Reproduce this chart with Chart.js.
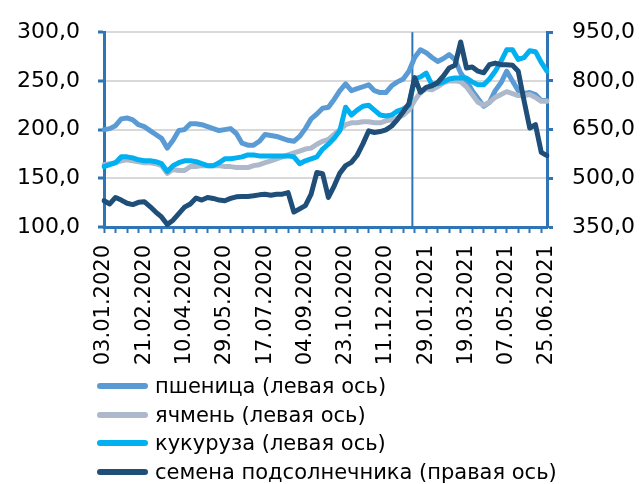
<!DOCTYPE html>
<html>
<head>
<meta charset="utf-8">
<script src="https://cdn.jsdelivr.net/npm/chart.js@4/dist/chart.umd.min.js"></script>
<style>
    html, body { margin: 0; padding: 0; background: #fff; }
    #wrap { position: relative; width: 640px; height: 484px; }
    #legend { position: absolute; left: 97px; top: 372px; font: 21px "DejaVu Sans", sans-serif; color: #000; }
    .row { height: 28.5px; display: flex; align-items: center; white-space: nowrap; }
    .swatch { width: 51px; height: 6px; border-radius: 3px; margin-right: 7px; }
</style>
</head>
<body>
<div id="wrap">
    <canvas id="chart" width="640" height="484"></canvas>
    <div id="legend"></div>
</div>
<script>
const dates = [
    "03.01.2020", "10.01.2020", "17.01.2020", "24.01.2020", "31.01.2020", "07.02.2020", "14.02.2020",
    "21.02.2020", "28.02.2020", "06.03.2020", "13.03.2020", "20.03.2020", "27.03.2020", "03.04.2020",
    "10.04.2020", "17.04.2020", "24.04.2020", "01.05.2020", "08.05.2020", "15.05.2020", "22.05.2020",
    "29.05.2020", "05.06.2020", "12.06.2020", "19.06.2020", "26.06.2020", "03.07.2020", "10.07.2020",
    "17.07.2020", "24.07.2020", "31.07.2020", "07.08.2020", "14.08.2020", "21.08.2020", "28.08.2020",
    "04.09.2020", "11.09.2020", "18.09.2020", "25.09.2020", "02.10.2020", "09.10.2020", "16.10.2020",
    "23.10.2020", "30.10.2020", "06.11.2020", "13.11.2020", "20.11.2020", "27.11.2020", "04.12.2020",
    "11.12.2020", "18.12.2020", "25.12.2020", "01.01.2021", "08.01.2021", "15.01.2021", "22.01.2021",
    "29.01.2021", "05.02.2021", "12.02.2021", "19.02.2021", "26.02.2021", "05.03.2021", "12.03.2021",
    "19.03.2021", "26.03.2021", "02.04.2021", "09.04.2021", "16.04.2021", "23.04.2021", "30.04.2021",
    "07.05.2021", "14.05.2021", "21.05.2021", "28.05.2021", "04.06.2021", "11.06.2021", "18.06.2021",
    "25.06.2021"
];

const wheat = [
    200, 201, 204, 211, 212, 210, 205, 203, 199, 195,
    191, 181, 189, 199, 200, 206, 206, 205, 203, 201,
    199, 200, 201, 196, 186, 184, 184, 188, 195, 194,
    193, 191, 189, 188, 193, 201, 211, 216, 222, 223,
    231, 240, 247, 240, 242, 244, 246, 240, 238, 238,
    245, 249, 252, 260, 274, 282, 279, 274, 270, 273,
    277, 272, 258, 250, 240, 232, 224, 228, 240, 248,
    260, 250, 240, 237, 238, 236, 230, 230
];

const barley = [
    164, 165, 166, 168, 169, 168, 167, 166, 166, 165,
    163, 155, 159, 158, 158, 162, 162, 163, 163, 163,
    163, 162, 162, 161, 161, 161, 163, 164, 166, 168,
    170, 172, 174, 176, 178, 180, 181, 185, 188, 190,
    195, 200, 205, 207, 207, 208, 208, 207, 207, 209,
    210, 212, 215, 220, 230, 238, 242, 241, 244, 248,
    250, 250, 249, 244, 236, 228, 225, 228, 233, 236,
    239, 237, 235, 235, 236, 233, 229, 229
];

const corn = [
    162, 164, 166, 172, 172, 171, 169, 168, 168, 167,
    165, 157, 163, 166, 168, 168, 167, 165, 163, 163,
    166, 170, 170, 171, 172, 174, 174, 173, 173, 173,
    173, 173, 173, 172, 165, 168, 170, 172, 180, 185,
    191, 199, 223, 215, 220, 224, 225, 220, 215, 214,
    215, 219, 221, 225, 252, 254, 258, 246, 247, 249,
    252, 253, 253, 253, 249, 246, 246, 252, 260, 270,
    282, 282, 272, 274, 281, 280, 269, 260
];

const sunflower = [
    431, 421, 441, 433, 423, 419, 426, 428, 413, 396,
    381, 358, 371, 391, 411, 421, 439, 433, 441, 438,
    433, 431, 438, 443, 444, 444, 446, 449, 451, 448,
    451, 451, 456, 396, 406, 416, 451, 518, 514, 441,
    476, 516, 539, 549, 571, 606, 646, 641, 644, 649,
    661, 681, 705, 730, 810, 765, 780, 785, 795, 815,
    840, 848, 920, 840, 843, 830, 825, 850, 855, 850,
    850, 848, 830, 740, 655, 665, 580, 570
];

const seriesNames = [
    "пшеница (левая ось)",
    "ячмень (левая ось)",
    "кукуруза (левая ось)",
    "семена подсолнечника (правая ось)"
];
const seriesColors = ["#5B9BD5", "#ADB9CA", "#00B0F0", "#1F4E79"];

const leftTicks = [100, 150, 200, 250, 300];
const rightTicks = [350, 500, 650, 800, 950];
const labelEvery = 7;
const yearMark = 53.6; // separator between 2020 and 2021

const axisBlue = "#2E75B6";
const fontFamily = "'DejaVu Sans', sans-serif";

function fmt(v) {
    return v.toFixed(1).replace(".", ",");
}

const yearLine = {
    id: "yearLine",
    beforeDatasetsDraw(chart) {
        const { ctx, chartArea, scales } = chart;
        const x = scales.x.getPixelForValue(yearMark);
        ctx.save();
        ctx.strokeStyle = axisBlue;
        ctx.lineWidth = 2;
        ctx.beginPath();
        ctx.moveTo(x, chartArea.top);
        ctx.lineTo(x, chartArea.bottom);
        ctx.stroke();
        ctx.restore();
    }
};

const values = [wheat, barley, corn, sunflower];

new Chart(document.getElementById("chart"), {
    type: "line",
    data: {
        labels: dates,
        datasets: values.map((data, i) => ({
            label: seriesNames[i],
            data,
            borderColor: seriesColors[i],
            yAxisID: i === 3 ? "y1" : "y",
            order: 3 - i
        }))
    },
    options: {
        responsive: false,
        animation: false,
        layout: { padding: { top: 27, left: 0, right: 0, bottom: 0 } },
        elements: {
            point: { radius: 0 },
            line: { borderWidth: 5, tension: 0, borderCapStyle: "round", borderJoinStyle: "round" }
        },
        plugins: {
            legend: { display: false },
            tooltip: { enabled: false }
        },
        scales: {
            x: {
                grid: {
                    drawOnChartArea: false,
                    tickLength: 6,
                    tickWidth: 2,
                    tickColor: ctx => ctx.index % 2 === 0 ? axisBlue : "rgba(0,0,0,0)"
                },
                border: { color: axisBlue, width: 3 },
                ticks: {
                    autoSkip: false,
                    minRotation: 90,
                    maxRotation: 90,
                    padding: 12,
                    color: "#000",
                    font: { family: fontFamily, size: 21 },
                    callback: (v, i) => i % labelEvery === 0 ? dates[i] : ""
                },
                afterFit: s => { s.height = 484 - 227; }
            },
            y: {
                position: "left",
                min: leftTicks[0],
                max: leftTicks[leftTicks.length - 1],
                afterBuildTicks: s => { s.ticks = leftTicks.map(v => ({ value: v })); },
                grid: { color: "#D9D9D9", lineWidth: 2, tickColor: axisBlue, tickLength: 6, tickWidth: 3 },
                border: { color: axisBlue, width: 3 },
                ticks: {
                    padding: 18,
                    color: "#000",
                    font: { family: fontFamily, size: 22 },
                    callback: v => fmt(v)
                },
                afterFit: s => { s.width = 104; }
            },
            y1: {
                position: "right",
                min: rightTicks[0],
                max: rightTicks[rightTicks.length - 1],
                afterBuildTicks: s => { s.ticks = rightTicks.map(v => ({ value: v })); },
                grid: { drawOnChartArea: false, tickColor: axisBlue, tickLength: 6, tickWidth: 3 },
                border: { color: axisBlue, width: 3 },
                ticks: {
                    padding: 19,
                    color: "#000",
                    font: { family: fontFamily, size: 22 },
                    callback: v => fmt(v)
                },
                afterFit: s => { s.width = 640 - 547; }
            }
        }
    },
    plugins: [yearLine]
});

const legend = document.getElementById("legend");
seriesNames.forEach((name, i) => {
    const row = document.createElement("div");
    row.className = "row";
    row.innerHTML = `<span class="swatch" style="background:${seriesColors[i]}"></span><span>${name}</span>`;
    legend.appendChild(row);
});
</script>
</body>
</html>
